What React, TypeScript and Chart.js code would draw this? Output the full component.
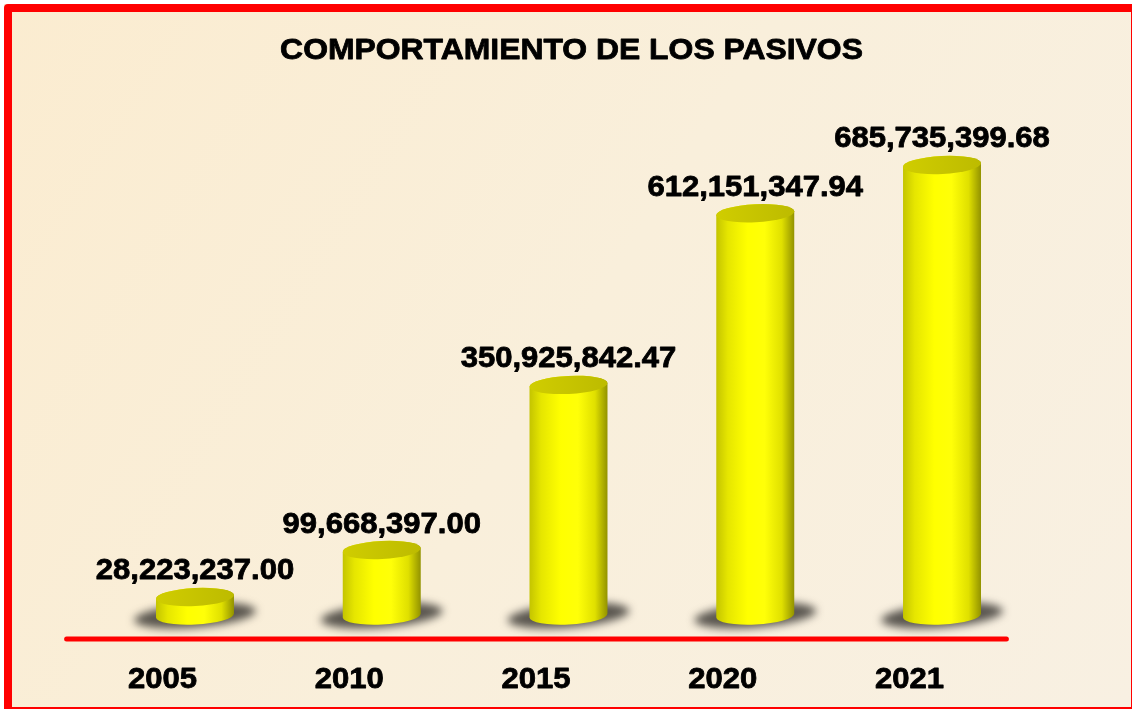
import React, { useEffect, useRef } from "react";
import { Chart, registerables } from "chart.js";

Chart.register(...registerables);

const TITLE = "COMPORTAMIENTO DE LOS PASIVOS";
const YEARS = ["2005", "2010", "2015", "2020", "2021"];
const PASIVOS = [28223237.0, 99668397.0, 350925842.47, 612151347.94, 685735399.68];
const Y_MAX = 815000000;

const FONT = '"Liberation Sans", Arial, sans-serif';
const STRETCH = 1.07;
const DEPTH = 32.5;

const fmt = (v: number) =>
  v.toLocaleString("en-US", { minimumFractionDigits: 2, maximumFractionDigits: 2 });

function stretchedText(ctx: CanvasRenderingContext2D, text: string, cx: number, baseline: number, size: number) {
  ctx.save();
  ctx.font = `bold ${size}px ${FONT}`;
  ctx.fillStyle = "#000";
  ctx.strokeStyle = "#000";
  ctx.lineWidth = 0.8;
  ctx.lineJoin = "round";
  ctx.textAlign = "center";
  ctx.textBaseline = "alphabetic";
  ctx.translate(cx, baseline);
  ctx.scale(STRETCH, 1);
  ctx.fillText(text, 0, 0);
  ctx.strokeText(text, 0, 0);
  ctx.restore();
}

const decorPlugin = {
  id: "decor",
  beforeDraw(chart: any) {
    const ctx: CanvasRenderingContext2D = chart.ctx;
    const { width, height } = chart;
    ctx.save();
    const bg = ctx.createLinearGradient(0, 0, width, height);
    bg.addColorStop(0, "#fbecd0");
    bg.addColorStop(0.5, "#f9efdb");
    bg.addColorStop(1, "#f8f0e2");
    ctx.fillStyle = bg;
    ctx.fillRect(4, 4, width, height);
    ctx.strokeStyle = "#ff0000";
    ctx.lineWidth = 8;
    ctx.lineJoin = "round";
    ctx.strokeRect(8, 8, width + 3 - 8, height + 2 - 8);
    ctx.restore();
  },
  afterDatasetsDraw(chart: any) {
    const ctx: CanvasRenderingContext2D = chart.ctx;
    const area = chart.chartArea;
    const meta = chart.getDatasetMeta(0);
    const xScale = chart.scales.x;
    const rot = -0.05;

    // shadows
    meta.data.forEach((bar: any) => {
      const w = bar.width;
      ctx.save();
      ctx.filter = "blur(4px)";
      ctx.fillStyle = "rgba(50,48,44,0.8)";
      ctx.beginPath();
      ctx.ellipse(bar.x, bar.base, w * 0.78, 12, -0.08, 0, Math.PI * 2);
      ctx.fill();
      ctx.restore();
    });

    // cylinders
    meta.data.forEach((bar: any) => {
      const w = bar.width;
      const rx = w / 2;
      const ry = 9;
      const x = bar.x;
      const top = bar.y;
      const base = bar.base;
      const g = ctx.createLinearGradient(x - rx, 0, x + rx, 0);
      g.addColorStop(0, "#c4c400");
      g.addColorStop(0.15, "#e6e600");
      g.addColorStop(0.4, "#ffff00");
      g.addColorStop(0.62, "#ffff08");
      g.addColorStop(0.84, "#e0e000");
      g.addColorStop(1, "#929200");
      ctx.save();
      ctx.beginPath();
      ctx.ellipse(x, base, rx, ry, rot, 0, Math.PI, false);
      ctx.ellipse(x, top, rx, ry, rot, Math.PI, 0, false);
      ctx.closePath();
      ctx.fillStyle = g;
      ctx.fill();
      const tg = ctx.createLinearGradient(x - rx, 0, x + rx, 0);
      tg.addColorStop(0, "#d0cd00");
      tg.addColorStop(1, "#bdbb00");
      ctx.beginPath();
      ctx.ellipse(x, top, rx, ry, rot, 0, Math.PI * 2);
      ctx.fillStyle = tg;
      ctx.fill();
      ctx.restore();
    });

    // value labels
    meta.data.forEach((bar: any, i: number) => {
      stretchedText(ctx, fmt(PASIVOS[i]), bar.x, bar.y - 17.5, 29);
    });

    // baseline
    ctx.save();
    ctx.strokeStyle = "#ff0000";
    ctx.lineWidth = 5;
    ctx.lineCap = "round";
    ctx.beginPath();
    ctx.moveTo(area.left - 35, 639);
    ctx.lineTo(area.right - 29, 639);
    ctx.stroke();
    ctx.restore();

    // year labels
    YEARS.forEach((y, i) => {
      stretchedText(ctx, y, xScale.getPixelForValue(i) - DEPTH, 688, 29);
    });

    // title
    stretchedText(ctx, TITLE, (area.left + area.right) / 2 + 3, 58.5, 29.8);
  },
};

export default function App() {
  const ref = useRef<HTMLCanvasElement | null>(null);
  useEffect(() => {
    if (!ref.current) return;
    const chart = new Chart(ref.current, {
      type: "bar",
      data: {
        labels: YEARS,
        datasets: [
          {
            label: "Pasivos",
            data: PASIVOS,
            backgroundColor: "rgba(0,0,0,0)",
            borderWidth: 0,
            categoryPercentage: 1,
            barPercentage: 0.418,
          },
        ],
      },
      options: {
        animation: false,
        responsive: false,
        maintainAspectRatio: false,
        layout: { padding: { left: 101.6, right: 96.6, top: 80, bottom: 93.5 } },
        plugins: { legend: { display: false }, tooltip: { enabled: false }, title: { display: false } },
        scales: {
          x: { display: false },
          y: { display: false, min: 0, max: Y_MAX },
        },
      },
      plugins: [decorPlugin],
    });
    return () => chart.destroy();
  }, []);
  return (
    <div style={{ position: "fixed", left: 0, top: 0, width: 1132, height: 709, background: "#fff" }}>
      <canvas ref={ref} width={1132} height={709} style={{ display: "block" }} />
    </div>
  );
}
